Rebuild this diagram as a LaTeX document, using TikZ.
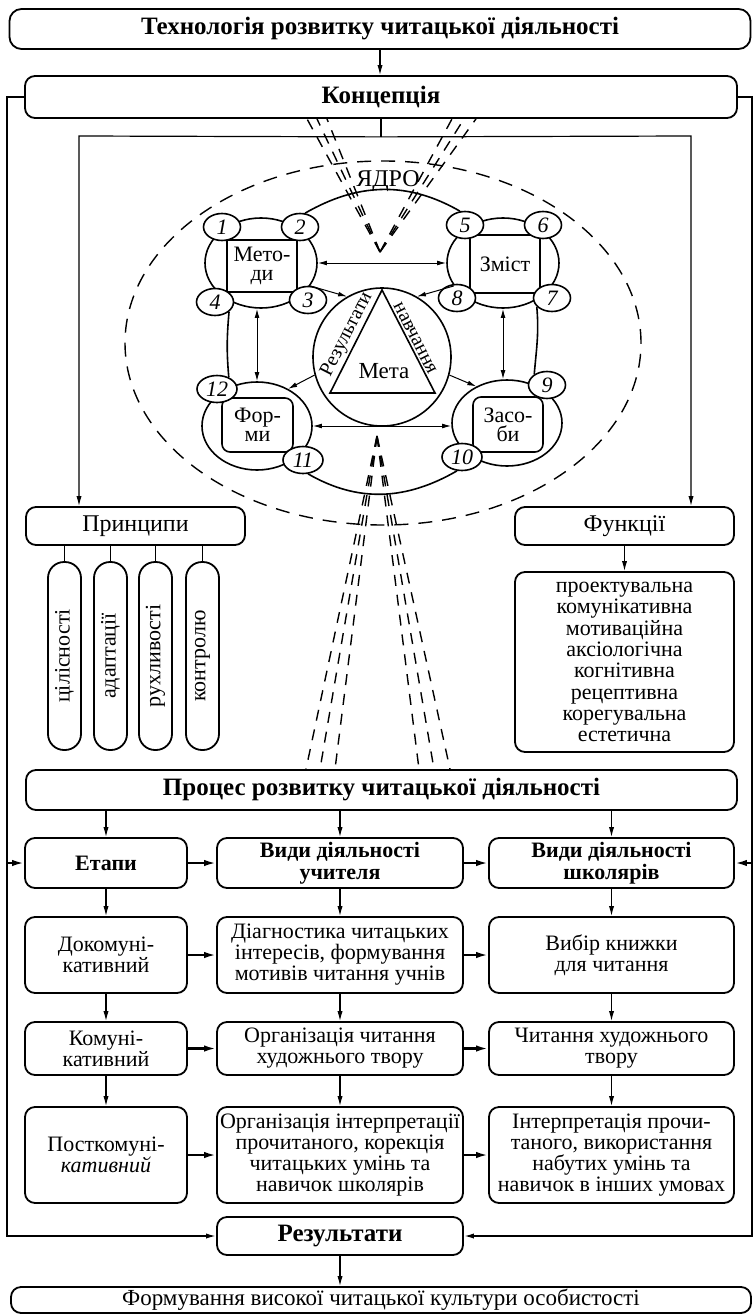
\documentclass[tikz,border=0pt]{standalone}
\usepackage{fontspec}
\setmainfont{Liberation Serif}
\usetikzlibrary{shapes.geometric,arrows.meta,calc}

\begin{document}
\begin{tikzpicture}[x=0.5pt,y=-0.5pt]
% Configuration
\tikzset{
  box/.style={draw, line width=0.9pt, rounded corners=5pt, align=center, inner sep=0pt, font=\fontsize{11}{10.5}\selectfont},
  headbox/.style={box, font=\bfseries\fontsize{12.5}{13}\selectfont},
  rowhead/.style={box, font=\bfseries\fontsize{11}{11}\selectfont},
  capsule/.style={draw, line width=0.9pt, rounded corners=8pt, rotate=90, minimum width=94pt, minimum height=16.5pt, inner sep=0pt, font=\fontsize{11}{12}\selectfont},
  ring/.style={draw, ellipse, line width=0.8pt, inner sep=0pt},
  num/.style={draw, ellipse, fill=white, line width=0.8pt, inner sep=0pt, minimum width=18.5pt, minimum height=13.5pt, font=\itshape\fontsize{11}{12}\selectfont},
  core/.style={draw, line width=0.8pt, fill=white, align=center, inner sep=0pt, font=\fontsize{11}{9.5}\selectfont},
  side/.style={anchor=south, inner sep=1pt, font=\fontsize{10}{10}\selectfont},
  arr/.style={-{Latex[length=5pt,width=2.6pt]}, line width=0.6pt},
  sarr/.style={-{Latex[length=4.5pt,width=2.4pt]}, line width=0.5pt},
  darr/.style={{Latex[length=4.5pt,width=2.4pt]}-{Latex[length=4.5pt,width=2.4pt]}, line width=0.5pt},
  harr/.style={-{Latex[length=6pt,width=3.2pt]}, line width=1.1pt},
  ray/.style={line width=0.7pt, dash pattern=on 5.5pt off 4.5pt},
}
\useasboundingbox (0,0) rectangle (755,1316);

% TOP
\node[headbox, minimum width=370.5pt, minimum height=20pt, rounded corners=6pt] (T) at (380,29) {Технологія розвитку читацької діяльності};
\node[headbox, minimum width=356pt, minimum height=21pt] (K) at (381,97) {Концепція};
\draw[arr] (T.south) -- (T.south |- K.north);

% CORE
\node[draw, ellipse, line width=0.7pt, dash pattern=on 7pt off 5pt, minimum width=258pt, minimum height=182pt] (C) at (383,343) {};
\node[font=\fontsize{12}{12}\selectfont] (Y) at (388,181) {ЯДРО};

\node[ring, minimum width=56pt, minimum height=45pt] (MO) at (261,263) {};
\node[ring, minimum width=56pt, minimum height=45pt] (ZO) at (503,263) {};
\node[ring, minimum width=55pt, minimum height=44pt] (FO) at (257,426) {};
\node[ring, minimum width=55pt, minimum height=43pt] (SO) at (507,423) {};

\node[core, minimum width=35pt, minimum height=26pt] (M) at (262,266) {Мето-\\ди};
\node[core, minimum width=35pt, minimum height=29pt] (Z) at (505,264) {Зміст};
\node[core, rounded corners=4pt, minimum width=35.5pt, minimum height=27pt] (F) at (257.5,425) {Фор-\\ми};
\node[core, rounded corners=4pt, minimum width=35pt, minimum height=27.5pt] (S) at (508,424.5) {Засо-\\би};

\node[draw, circle, line width=0.8pt, minimum size=69pt] (MT) at (382,357) {};
\coordinate (TA) at (382,290);
\coordinate (TB) at (330,393);
\coordinate (TC) at (435,393);
\draw[line width=0.8pt] (TA) -- (TB) -- (TC) -- cycle;
\node[font=\fontsize{11.5}{12}\selectfont] (MTt) at (384,371) {Мета};
\node[side, rotate=63] (RZ) at ($(TB)!0.52!(TA)$) {Результати};
\node[side, rotate=-63] (NV) at ($(TA)!0.5!(TC)$) {навчання};

\node[num] (N1) at (222,227) {1};
\node[num] (N2) at (300,227) {2};
\node[num] (N3) at (308,300) {3};
\node[num] (N4) at (215,302) {4};
\node[num] (N5) at (465,225) {5};
\node[num] (N6) at (543,225) {6};
\node[num] (N7) at (552,298) {7};
\node[num] (N8) at (457,298) {8};
\node[num] (N9) at (547,385) {9};
\node[num, minimum width=20pt] (N10) at (462,457) {10};
\node[num, minimum width=20pt] (N11) at (303,460) {11};
\node[num, minimum width=20pt] (N12) at (217,389) {12};

\draw[line width=0.8pt] (N2.70) to[out=30,in=150] (N5.110);
\draw[line width=0.8pt] (N11.-70) to[out=-30,in=-150] (N10.-110);
\draw[line width=0.8pt] (N4.-35) to[out=-95,in=95] (N12.45);
\draw[line width=0.8pt] (N7.-150) to[out=-85,in=85] (N9.140);

\draw[darr] (MO.east) -- (ZO.west);
\draw[darr] (FO.north |- MO.south) -- (FO.north);
\draw[darr] (ZO.south) -- (ZO.south |- SO.north);
\draw[darr] (FO.east) -- (FO.east -| SO.west);
\draw[sarr] (MO.-25) -- (MT.120);
\draw[sarr] (ZO.-155) -- (MT.60);
\draw[sarr] (MT.195) -- (FO.50);
\draw[sarr] (MT.-15) -- (SO.130);

% PRINCIPLES AND FUNCTIONS
\node[box, font=\fontsize{12}{12}\selectfont, minimum width=109.5pt, minimum height=19pt] (P) at (135.5,526) {Принципи};
\node[capsule] (P1) at (64.5,656) {цілісності};
\node[capsule] (P2) at (110.5,656) {адаптації};
\node[capsule] (P3) at (155.5,656) {рухливості};
\node[capsule] (P4) at (202.5,656) {контролю};
\draw[line width=0.8pt] (P.south -| P1.east) -- (P1.east);
\draw[line width=0.8pt] (P.south -| P2.east) -- (P2.east);
\draw[line width=0.8pt] (P.south -| P3.east) -- (P3.east);
\draw[line width=0.8pt] (P.south -| P4.east) -- (P4.east);

\node[box, font=\fontsize{12}{12}\selectfont, minimum width=109.5pt, minimum height=19pt] (Fn) at (624.5,526) {Функції};
\node[box, font=\fontsize{11}{10.65}\selectfont, minimum width=109.5pt, minimum height=90pt] (FL) at (624.5,662) {проектувальна\\комунікативна\\мотиваційна\\аксіологічна\\когнітивна\\рецептивна\\корегувальна\\естетична};
\draw[arr] (Fn.south) -- (FL.north);

\coordinate (KJ) at ($(K.south)+(0,18)$);
\coordinate (PL) at (79,136);
\coordinate (PR) at (691,136);
\draw[line width=0.8pt] (K.south) -- (KJ);
\draw[arr] (KJ) -- (PL) -- (PL |- P.north);
\draw[arr] (KJ) -- (PR) -- (PR |- Fn.north);

% PROCESS
\node[headbox, minimum width=355.5pt, minimum height=20pt] (Pr) at (381.5,790) {Процес розвитку читацької діяльності};

% rays
\coordinate (VT) at (380,252);
\coordinate (VB) at (377,436);
\foreach \x in {307,317,327,452,464,476} \draw[ray] (VT) -- (\x,0 |- K.south);
\foreach \x in {306,320,335,419,434,450} \draw[ray] (VB) -- (\x,0 |- Pr.north);

\node[rowhead, minimum width=81pt, minimum height=25pt] (E) at (106,863) {Етапи};
\node[rowhead, minimum width=123pt, minimum height=25pt] (VU) at (340,863) {Види діяльності\\учителя};
\node[rowhead, minimum width=122.5pt, minimum height=25pt] (VS) at (611.5,863) {Види діяльності\\школярів};

\node[box, minimum width=81pt, minimum height=38pt] (B1) at (106,955) {Докомуні-\\кативний};
\node[box, minimum width=123pt, minimum height=38pt] (B2) at (340,955) {Діагностика читацьких\\інтересів, формування\\мотивів читання учнів};
\node[box, minimum width=122.5pt, minimum height=38pt] (B3) at (611.5,955) {Вибір книжки\\для читання};

\node[box, minimum width=81pt, minimum height=26.5pt] (C1) at (106,1048.5) {Комуні-\\кативний};
\node[box, minimum width=123pt, minimum height=26.5pt] (C2) at (340,1048.5) {Організація читання\\художнього твору};
\node[box, minimum width=122.5pt, minimum height=26.5pt] (C3) at (611.5,1048.5) {Читання художнього\\твору};

\node[box, minimum width=81pt, minimum height=48pt] (D1) at (106,1155) {Посткомуні-\\\textit{кативний}};
\node[box, minimum width=123pt, minimum height=48pt] (D2) at (340,1155) {Організація інтерпретації\\прочитаного, корекція\\читацьких умінь та\\навичок школярів};
\node[box, minimum width=122.5pt, minimum height=48pt] (D3) at (611.5,1155) {Інтерпретація прочи-\\таного, використання\\набутих умінь та\\навичок в інших умовах};

\node[headbox, minimum width=123pt, minimum height=19pt] (R) at (340,1236) {Результати};
\node[box, font=\fontsize{11.5}{12}\selectfont, minimum width=370pt, minimum height=13pt] (FF) at (381,1300) {Формування високої читацької культури особистості};

% Connections
\draw[arr] (Pr.south -| E.north) -- (E.north);
\draw[arr] (Pr.south -| VU.north) -- (VU.north);
\draw[arr] (Pr.south -| VS.north) -- (VS.north);
\draw[arr] (E.south) -- (B1.north);
\draw[arr] (VU.south) -- (B2.north);
\draw[arr] (VS.south) -- (B3.north);
\draw[arr] (B1.south) -- (C1.north);
\draw[arr] (B2.south) -- (C2.north);
\draw[arr] (B3.south) -- (C3.north);
\draw[arr] (C1.south) -- (D1.north);
\draw[arr] (C2.south) -- (D2.north);
\draw[arr] (C3.south) -- (D3.north);
\draw[arr] (R.south) -- (R.south |- FF.north);

\draw[harr] (E.east) -- (VU.west);
\draw[harr] (VU.east) -- (VS.west);
\draw[harr] (B1.east) -- (B2.west);
\draw[harr] (B2.east) -- (B3.west);
\draw[harr] (C1.east) -- (C2.west);
\draw[harr] (C2.east) -- (C3.west);
\draw[harr] (D1.east) -- (D2.west);
\draw[harr] (D2.east) -- (D3.west);

\coordinate (LO) at (7,0);
\coordinate (RO) at (752,0);
\draw[arr, line width=0.8pt] (K.west) -- (K.west -| LO) |- (R.west);
\draw[harr] (E.west -| LO) -- (E.west);
\draw[arr, line width=0.8pt] (K.east) -- (K.east -| RO) |- (R.east);
\draw[harr] (VS.east -| RO) -- (VS.east);
\end{tikzpicture}
\end{document}
